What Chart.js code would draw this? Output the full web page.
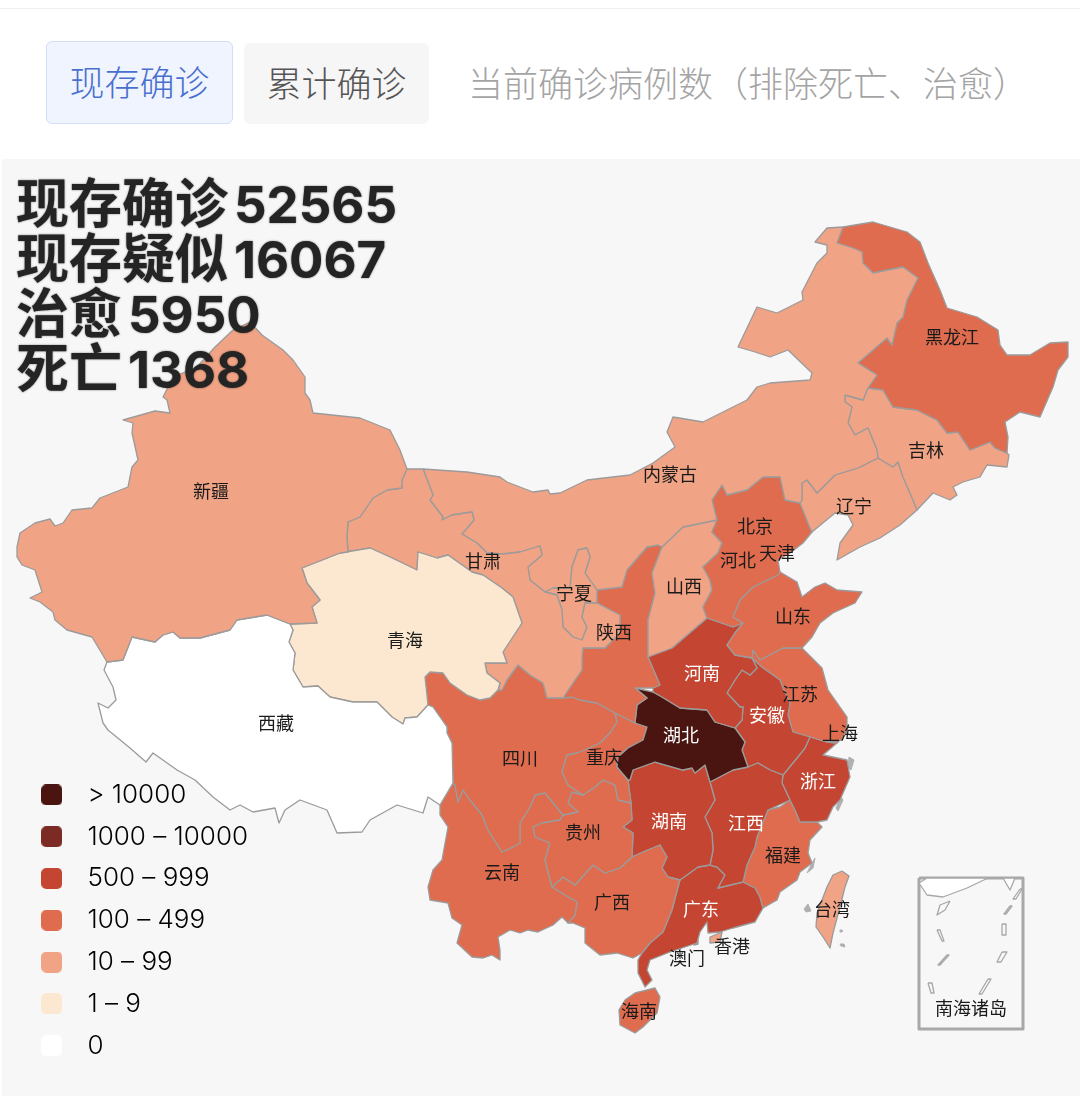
<!DOCTYPE html>
<html lang="zh"><head><meta charset="utf-8">
<style>
html,body{margin:0;padding:0;background:#fff;width:1080px;height:1099px;overflow:hidden;font-family:"Noto Sans CJK SC",sans-serif}
.abs{position:absolute;white-space:nowrap}
#line{left:0;top:8px;width:1080px;height:1px;background:#efefef}
#panel{left:2px;top:159px;width:1078px;height:937px;background:#f7f7f7}
.tab{display:flex;align-items:center;justify-content:center;font-size:35px;font-weight:300;box-sizing:border-box;border-radius:6px;padding-bottom:4px}
#t1{left:46px;top:41px;width:187px;height:83px;background:#f0f4fe;border:1px solid #d3def8;color:#4a70cf}
#t2{left:244px;top:43px;width:185px;height:81px;background:#f6f6f6;color:#555}
#t3{left:468px;top:56px;font-size:35px;font-weight:300;color:#a4a4a4;line-height:52px}
#c{position:absolute;left:0;top:0}
.st{left:16px;font-size:53px;font-weight:700;color:#242424;line-height:55px;text-shadow:0 0 2px rgba(0,0,0,.55)}
.st span{font-family:"Inter",sans-serif;margin-left:6px;font-size:51px}
</style>
<script src="https://cdn.jsdelivr.net/npm/chart.js@4/dist/chart.umd.min.js"></script>
</head><body>
<div class="abs" id="line"></div>
<div class="abs" id="panel"></div>
<div class="abs tab" id="t1">现存确诊</div>
<div class="abs tab" id="t2">累计确诊</div>
<div class="abs" id="t3">当前确诊病例数（排除死亡、治愈）</div>
<canvas id="c" width="1080" height="1099"></canvas>
<div class="abs st" style="top:173px">现存确诊<span>52565</span></div>
<div class="abs st" style="top:228px">现存疑似<span>16067</span></div>
<div class="abs st" style="top:283px">治愈<span>5950</span></div>
<div class="abs st" style="top:338px">死亡<span>1368</span></div>
<script>
// legend buckets
const legendLabels=["> 10000","1000 – 10000","500 – 999","100 – 499","10 – 99","1 – 9","0"];
const legendColors=["#4a1510","#7c2b24","#c44632","#e06c4f","#f0a385","#fce8d1","#ffffff"];
// outlines in map units
const xinjiang=[[250,322],[262,335],[283,350],[293,360],[305,377],[305,393],[310,400],[313,413],[360,418],[390,430],[400,450],[407,469],[402,480],[402,488],[387,490],[373,498],[360,517],[348,522],[347,537],[348,552],[340,553],[302,568],[307,583],[320,600],[312,607],[317,623],[290,624],[267,615],[237,620],[230,630],[200,638],[180,638],[173,632],[163,635],[155,642],[132,637],[123,660],[107,662],[92,637],[67,630],[55,620],[53,612],[40,602],[30,598],[42,592],[35,570],[22,565],[17,557],[17,547],[20,533],[35,523],[50,519],[55,526],[63,523],[72,510],[92,508],[100,498],[128,487],[132,467],[138,460],[132,433],[133,423],[123,420],[155,411],[170,413],[167,400],[163,397],[173,377],[197,367],[215,347],[233,330]];
const xizang=[[290,624],[293,630],[289,642],[295,653],[293,670],[303,687],[318,686],[330,697],[353,702],[377,702],[392,717],[403,724],[405,718],[417,717],[428,705],[433,707],[447,727],[447,733],[452,743],[453,783],[440,805],[428,797],[423,813],[397,805],[370,820],[362,832],[337,833],[327,810],[300,800],[285,810],[279,823],[275,808],[253,812],[240,805],[230,810],[213,797],[195,780],[177,770],[153,753],[146,762],[130,748],[108,730],[103,723],[98,703],[108,708],[116,700],[113,687],[104,670],[107,662],[123,660],[132,637],[155,642],[163,635],[173,632],[180,638],[200,638],[230,630],[237,620],[267,615]];
const qinghai=[[302,568],[340,553],[370,548],[390,557],[417,570],[418,552],[437,558],[448,555],[472,572],[483,575],[502,588],[513,597],[522,623],[503,652],[507,663],[485,663],[487,673],[500,683],[498,690],[490,698],[480,700],[467,695],[450,683],[443,673],[430,672],[425,677],[428,705],[417,717],[405,718],[403,724],[392,717],[377,702],[353,702],[330,697],[318,686],[303,687],[293,670],[295,653],[289,642],[293,630],[290,624],[317,623],[312,607],[320,600],[307,583]];
const gansu=[[348,552],[347,537],[348,522],[360,517],[373,498],[387,490],[402,488],[402,480],[407,469],[423,469],[433,495],[430,500],[443,517],[442,520],[452,515],[472,512],[474,520],[462,534],[477,543],[487,553],[503,554],[520,552],[540,546],[542,555],[528,567],[530,580],[545,592],[557,595],[562,610],[563,627],[573,637],[582,640],[587,627],[582,617],[585,603],[597,603],[620,615],[620,633],[605,648],[583,648],[582,657],[582,670],[573,683],[563,698],[547,698],[543,683],[530,675],[518,665],[507,680],[502,690],[498,690],[500,683],[487,673],[485,663],[507,663],[503,652],[522,623],[513,597],[502,588],[483,575],[472,572],[448,555],[437,558],[418,552],[417,570],[390,557],[370,548],[340,553]];
const ningxia=[[587,548],[578,550],[572,567],[570,588],[553,588],[545,592],[557,595],[562,610],[563,627],[573,637],[582,640],[587,627],[582,617],[585,603],[597,603],[597,590],[585,573],[590,557]];
const neimenggu=[[423,469],[467,472],[500,477],[507,482],[533,492],[548,490],[550,494],[560,493],[587,480],[630,475],[653,463],[675,447],[667,432],[673,417],[703,422],[747,400],[757,387],[770,383],[810,380],[812,373],[788,350],[770,357],[755,352],[738,347],[757,307],[777,313],[803,300],[802,292],[817,263],[827,253],[827,245],[815,242],[827,228],[843,227],[837,243],[853,248],[862,252],[863,263],[873,273],[903,267],[918,278],[907,300],[903,317],[897,323],[892,345],[887,338],[858,363],[877,375],[868,388],[863,400],[845,395],[845,402],[852,407],[848,423],[855,435],[868,428],[877,450],[878,458],[858,468],[835,475],[817,493],[807,480],[802,483],[802,500],[800,503],[785,500],[780,477],[763,477],[747,490],[727,495],[722,485],[712,500],[717,520],[683,527],[662,547],[658,545],[647,547],[627,570],[622,587],[597,590],[585,573],[590,557],[587,548],[578,550],[572,567],[570,588],[553,588],[545,592],[530,580],[528,567],[542,555],[540,546],[520,552],[503,554],[487,553],[477,543],[462,534],[474,520],[472,512],[452,515],[442,520],[443,517],[430,500],[433,495]];
const heilongjiang=[[843,227],[873,222],[907,232],[920,242],[928,263],[940,290],[947,308],[977,317],[998,330],[1000,345],[1007,355],[1030,355],[1050,343],[1068,342],[1068,357],[1058,370],[1053,387],[1040,417],[1020,412],[1005,422],[1008,437],[1007,453],[995,448],[990,442],[970,450],[958,432],[947,433],[937,420],[917,410],[893,407],[883,390],[868,388],[877,375],[858,363],[887,338],[892,345],[897,323],[903,317],[907,300],[918,278],[903,267],[873,273],[863,263],[862,252],[853,248],[837,243]];
const jilin=[[868,388],[883,390],[893,407],[917,410],[937,420],[947,433],[958,432],[970,450],[990,442],[995,448],[1007,453],[1009,455],[1007,467],[987,465],[980,477],[963,482],[953,487],[957,495],[950,500],[933,493],[917,510],[913,500],[903,477],[898,462],[893,467],[878,458],[877,450],[868,428],[855,435],[848,423],[852,407],[845,402],[845,395],[863,400]];
const liaoning=[[878,458],[893,467],[898,462],[903,477],[913,500],[917,510],[900,525],[880,538],[860,547],[837,560],[840,543],[853,525],[848,515],[835,513],[812,532],[810,528],[800,503],[802,500],[802,483],[807,480],[817,493],[835,475],[858,468]];
const hebei=[[712,500],[722,485],[727,495],[747,490],[763,477],[780,477],[785,500],[800,503],[810,528],[812,532],[803,543],[790,553],[778,560],[780,572],[778,575],[753,587],[740,600],[733,617],[743,623],[733,627],[707,618],[703,607],[712,590],[710,580],[703,567],[718,553],[722,543],[712,532],[717,520]];
const beijing=[[757,508],[748,515],[737,525],[737,540],[743,543],[757,542],[770,537],[775,532],[770,523],[767,515]];
const tianjin=[[760,547],[770,540],[775,535],[773,545],[778,553],[775,563],[772,567],[762,562],[758,553]];
const shanxi=[[717,520],[683,527],[662,547],[652,573],[655,593],[648,620],[648,657],[672,648],[707,618],[703,607],[712,590],[710,580],[703,567],[718,553],[722,543],[712,532]];
const shaanxi=[[597,590],[622,587],[627,570],[647,547],[658,545],[662,547],[652,573],[655,593],[648,620],[648,657],[660,685],[653,688],[635,688],[647,698],[637,705],[635,723],[615,713],[597,703],[580,700],[572,697],[563,698],[573,683],[582,670],[582,657],[583,648],[605,648],[620,633],[620,615],[597,603]];
const shandong=[[778,575],[780,572],[797,582],[802,597],[815,587],[825,583],[837,590],[862,592],[855,603],[833,613],[820,623],[812,637],[802,648],[783,648],[760,660],[753,650],[752,658],[735,655],[727,645],[735,633],[743,623],[733,617],[740,600],[753,587]];
const henan=[[648,657],[672,648],[707,618],[733,627],[743,623],[735,633],[727,645],[735,655],[752,658],[757,668],[750,675],[742,670],[735,680],[727,693],[740,707],[743,707],[742,720],[735,728],[715,722],[707,710],[680,708],[662,697],[653,692],[653,688],[660,685]];
const hubei=[[635,688],[653,692],[662,697],[680,708],[707,710],[715,722],[735,728],[745,742],[742,750],[748,767],[733,770],[710,782],[705,765],[695,773],[692,768],[683,770],[655,762],[633,770],[630,780],[628,780],[617,767],[618,757],[628,748],[643,740],[647,727],[635,723],[637,705],[647,698]];
const chongqing=[[615,713],[635,723],[647,727],[643,740],[628,748],[618,757],[617,767],[628,780],[631,803],[618,800],[615,785],[603,780],[595,787],[583,795],[568,785],[562,772],[567,755],[577,753],[585,750],[600,743],[610,733],[617,722]];
const sichuan=[[425,677],[430,672],[443,673],[450,683],[467,695],[480,700],[490,698],[498,690],[502,690],[507,680],[518,665],[530,675],[543,683],[547,698],[563,698],[572,697],[580,700],[597,703],[615,713],[617,722],[610,733],[600,743],[585,750],[577,753],[567,755],[562,772],[568,785],[583,795],[572,792],[568,803],[578,812],[563,815],[545,793],[535,795],[530,807],[520,823],[520,843],[513,847],[502,852],[488,830],[482,815],[470,800],[463,790],[458,802],[455,785],[453,783],[452,743],[447,733],[447,727],[433,707],[428,705]];
const guizhou=[[583,795],[595,787],[603,780],[615,785],[618,800],[631,803],[632,820],[623,827],[633,833],[632,857],[620,868],[605,873],[593,865],[575,885],[563,877],[552,887],[548,872],[545,860],[550,843],[535,837],[533,827],[542,823],[560,820],[563,815],[578,812],[568,803],[572,792]];
const yunnan=[[455,785],[458,802],[463,790],[470,800],[482,815],[488,830],[502,852],[513,847],[520,843],[520,823],[530,807],[535,795],[545,793],[563,815],[560,820],[542,823],[533,827],[535,837],[550,843],[545,860],[548,872],[552,887],[568,897],[577,902],[575,915],[568,923],[562,917],[553,925],[538,932],[528,930],[520,933],[510,930],[498,937],[500,950],[500,960],[492,955],[483,958],[472,957],[457,943],[462,925],[452,918],[448,903],[430,900],[428,887],[433,870],[442,860],[448,827],[440,815],[440,805],[453,783]];
const guangxi=[[552,887],[563,877],[575,885],[593,865],[605,873],[620,868],[632,857],[643,852],[660,845],[667,857],[662,868],[668,877],[680,880],[678,887],[672,910],[663,932],[650,943],[642,953],[633,958],[617,953],[600,955],[585,943],[585,928],[573,923],[568,923],[575,915],[577,902],[568,897]];
const hunan=[[630,780],[633,770],[655,762],[683,770],[692,768],[695,773],[705,765],[710,782],[715,800],[705,817],[712,833],[713,850],[710,865],[698,867],[680,880],[668,877],[662,868],[667,857],[660,845],[643,852],[632,857],[633,833],[623,827],[632,820],[631,803],[628,780]];
const jiangxi=[[710,782],[733,770],[748,767],[758,763],[770,770],[783,775],[782,783],[790,800],[768,810],[757,837],[755,847],[747,865],[743,882],[718,888],[725,875],[717,867],[710,865],[713,850],[712,833],[705,817],[715,800]];
const anhui=[[752,658],[763,668],[780,680],[783,688],[790,703],[788,715],[793,732],[810,737],[805,748],[797,758],[783,775],[770,770],[758,763],[748,767],[742,750],[745,742],[735,728],[742,720],[743,707],[740,707],[727,693],[735,680],[742,670],[750,675],[757,668]];
const jiangsu=[[752,658],[753,650],[760,660],[783,648],[802,648],[822,668],[828,690],[847,717],[847,727],[842,740],[827,742],[810,737],[793,732],[788,715],[790,703],[783,688],[780,680],[763,668]];
const shanghai=[[833,728],[847,727],[847,733],[837,743],[827,742],[828,732]];
const zhejiang=[[810,737],[827,742],[837,743],[823,755],[847,760],[850,777],[840,800],[833,807],[827,820],[817,822],[800,822],[795,810],[790,800],[782,783],[783,775],[797,758],[805,748]];
const fujian=[[790,800],[795,810],[800,822],[817,822],[822,827],[810,840],[808,853],[812,863],[800,872],[797,880],[780,892],[777,900],[763,908],[760,897],[755,888],[743,882],[747,865],[755,847],[757,837],[768,810],[780,807]];
const guangdong=[[743,882],[755,888],[760,897],[763,908],[755,922],[733,928],[720,932],[708,933],[707,922],[700,932],[697,943],[670,952],[650,960],[647,970],[652,980],[645,987],[638,973],[638,960],[642,953],[650,943],[663,932],[672,910],[678,887],[680,880],[698,867],[710,865],[717,867],[725,875],[718,888]];
const xianggang=[[710,937],[722,932],[720,942],[710,943]];
const aomen=[[694,941],[698,940],[698,944],[694,945]];
const hainan=[[635,993],[655,988],[660,997],[657,1013],[643,1027],[635,1033],[620,1025],[619,1010],[625,1000]];
const taiwan=[[842,871],[849,876],[845,887],[840,907],[833,933],[830,948],[823,937],[816,927],[817,913],[827,887],[833,875]];
const provinceNames=["新疆","西藏","青海","甘肃","宁夏","内蒙古","黑龙江","吉林","辽宁","河北","北京","天津","山西","陕西","山东","河南","湖北","重庆","四川","贵州","云南","广西","湖南","江西","安徽","江苏","上海","浙江","福建","广东","香港","澳门","海南","台湾"];
const provinceOutlines=[xinjiang,xizang,qinghai,gansu,ningxia,neimenggu,heilongjiang,jilin,liaoning,hebei,beijing,tianjin,shanxi,shaanxi,shandong,henan,hubei,chongqing,sichuan,guizhou,yunnan,guangxi,hunan,jiangxi,anhui,jiangsu,shanghai,zhejiang,fujian,guangdong,xianggang,aomen,hainan,taiwan];
const provinceBuckets=[4,6,5,4,4,4,3,4,4,3,3,4,4,3,3,2,0,3,3,3,3,3,2,2,2,3,3,2,3,2,4,4,3,4];
const labelX=[211,276,405,483,574,670,952,926,854,738,755,777,684,614,793,702,681,604,520,583,502,612,669,746,767,800,840,818,783,701,732,687,639,832];
const labelY=[491,723,640,561,593,474,337,450,506,560,526,553,586,632,616,673,735,757,758,832,872,902,821,823,715,694,733,781,855,909,946,958,1011,909];
const lightLabelBuckets=[0,2];
// South China Sea inset
const insetName="南海诸岛", insetLabel=[971,1008];
const insetFrame=[[919,878],[1023,878],[1023,1029],[919,1029]];
const insetLand=[[[919,883],[927,878],[988,878],[967,888],[943,897],[927,895]],[[1003,878],[1015,878],[1010,890]]];
const insetDashes=[[[950,901],[945,910],[937,915],[940,905]],[[937,930],[940,930],[944,941],[942,941]],[[947,955],[949,955],[940,965],[938,965]],[[928,983],[932,983],[934,993],[931,993]],[[988,979],[991,979],[982,994],[979,994]],[[1002,952],[1007,952],[1001,962],[997,962]],[[1002,924],[1006,924],[1006,935],[1002,935]],[[1010,906],[1012,906],[1006,914],[1004,914]],[[1020,889],[1022,889],[1016,899],[1013,899]]];
const islets=[[[804,909],[808,904],[811,911],[806,912]],[[840,930],[842,930],[842,932],[840,932]],[[840,944],[844,944],[845,947],[841,946]],[[849,757],[854,760],[851,770],[848,768]],[[836,808],[841,797],[843,800],[838,811]],[[812,863],[815,858],[813,868],[807,873]]];
const estuary=[[810,712],[820,718],[833,718],[847,723]];

const toPts=a=>a.concat([a[0]]).map(p=>({x:p[0],y:p[1]}));
const poly=(a,fillC,stroke,w)=>({data:toPts(a),showLine:true,fill:'shape',backgroundColor:fillC,borderColor:stroke,borderWidth:w,pointRadius:0,pointHoverRadius:0,tension:0,borderJoinStyle:'round',spanGaps:false});
const datasets=[];
provinceOutlines.forEach((o,i)=>datasets.push(Object.assign(poly(o,legendColors[provinceBuckets[i]],'#9b9b9b',1.3),{label:provinceNames[i]})));
islets.forEach(o=>datasets.push(poly(o,'#b0b0b0','#b0b0b0',1)));
datasets.push({data:estuary.map(p=>({x:p[0],y:p[1]})),showLine:true,fill:false,borderColor:'#b5a8a2',borderWidth:2,pointRadius:0,tension:0});
insetLand.forEach(o=>datasets.push(poly(o,'#ffffff','#a8a8a8',1.3)));
insetDashes.forEach(o=>datasets.push(poly(o,'#f7f7f7','#a8a8a8',1.3)));
datasets.push(poly(insetFrame,'rgba(0,0,0,0)','#a8a8a8',3));

function swatch(c){const s=document.createElement('canvas');s.width=21;s.height=21;const g=s.getContext('2d');g.fillStyle=c;g.beginPath();g.roundRect(0,0,21,21,5);g.fill();return s;}
const swatches=legendColors.map(swatch);

const mapLabels={id:'mapLabels',afterDatasetsDraw(chart){
  const {ctx,scales:{x,y}}=chart;ctx.save();
  ctx.font='18px "Noto Sans CJK SC"';ctx.textAlign='center';ctx.textBaseline='middle';
  provinceNames.forEach((n,i)=>{ctx.fillStyle=lightLabelBuckets.includes(provinceBuckets[i])?'#ffffff':'#1a1a1a';ctx.fillText(n,x.getPixelForValue(labelX[i]),y.getPixelForValue(labelY[i]));});
  ctx.fillStyle='#1a1a1a';ctx.fillText(insetName,x.getPixelForValue(insetLabel[0]),y.getPixelForValue(insetLabel[1]));
  ctx.restore();}};
const legendShift={id:'legendShift',afterLayout(chart){const l=chart.legend;l.left+=13.2;l.right+=13.2;l.top-=24.5;l.bottom-=24.5;}};

new Chart(document.getElementById('c'),{type:'scatter',data:{datasets},plugins:[legendShift,mapLabels],options:{
  responsive:false,animation:false,events:[],layout:{padding:0},
  scales:{x:{type:'linear',min:0,max:1080,display:false},y:{type:'linear',min:0,max:1099,reverse:true,display:false}},
  plugins:{tooltip:{enabled:false},title:{display:false},
   legend:{display:true,position:'chartArea',align:'end',labels:{usePointStyle:true,pointStyleWidth:45.5,padding:15.8,color:'#444',font:{size:26,family:'Inter, "Noto Sans CJK SC"',weight:'300'},
     generateLabels:()=>legendLabels.map((t,i)=>({text:t,fillStyle:legendColors[i],strokeStyle:'transparent',lineWidth:0,pointStyle:swatches[i],hidden:false,datasetIndex:i}))}}}}});
</script>
</body></html>
